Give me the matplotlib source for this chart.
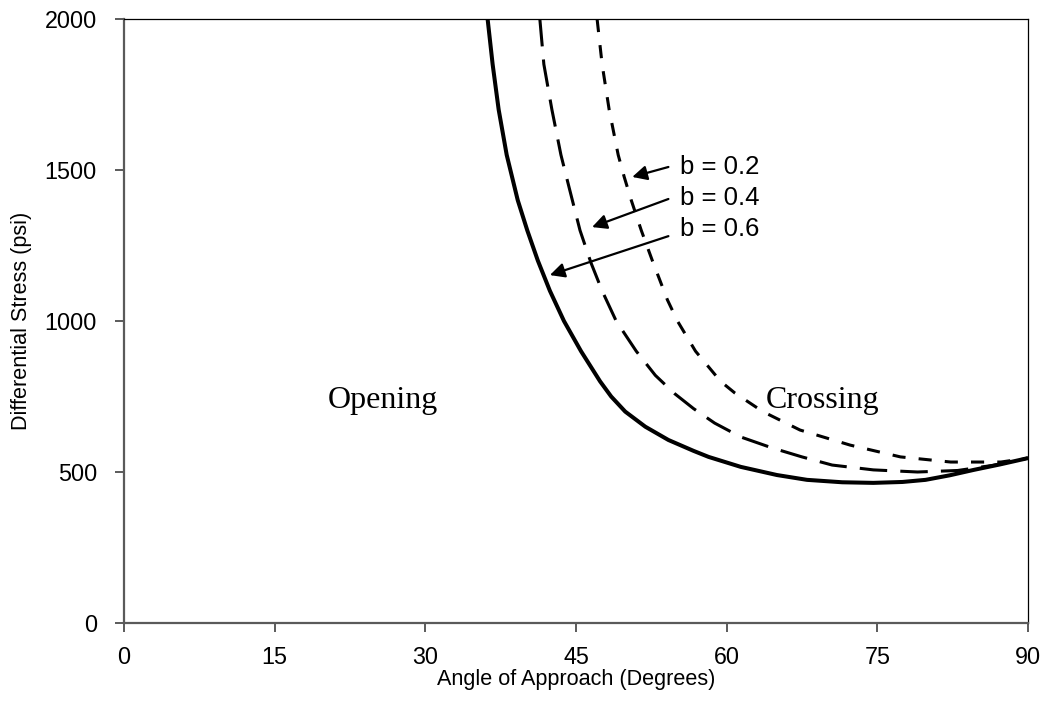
import numpy as np
import matplotlib
matplotlib.use('Agg')
import matplotlib.pyplot as plt

# curves: angle (deg) vs differential stress (psi)
ang_06 = [36.2, 36.7, 37.3, 38.1, 39.2, 40.15, 41.2, 42.4, 43.8, 45.5, 47.4, 48.5, 49.9, 51.9, 54.2,
          56.7, 58.2, 61.4, 65.0, 68.0, 71.5, 74.6, 77.5, 79.8, 82.2, 84.6, 87.2, 90.0]
psi_06 = [2000, 1850, 1700, 1550, 1400, 1300, 1200, 1100, 1000, 900, 800, 750, 700, 650, 606,
          570, 550, 517, 490, 474, 466, 464, 467, 474, 489, 507, 525, 546]

ang_04 = [41.4, 41.8, 42.6, 43.5, 44.3, 45.4, 46.5, 47.6, 49.0, 51.0, 52.9, 54.8, 56.7, 58.8,
          61.4, 64.5, 67.5, 70.5, 74.6, 79.0, 83.0, 86.5, 90.0]
psi_04 = [2000, 1850, 1700, 1550, 1444, 1300, 1192, 1100, 1000, 900, 820, 760, 710, 662,
          616, 580, 550, 523, 507, 500, 505, 522, 546]

ang_02 = [47.1, 47.6, 48.3, 49.2, 49.8, 50.5, 51.5, 52.6, 54.1, 55.1, 56.9, 59.4, 60.8, 63.6,
          67.3, 72.3, 77.3, 82.3, 87.3, 90.0]
psi_02 = [2000, 1850, 1700, 1550, 1477, 1400, 1300, 1200, 1070, 1000, 900, 800, 762, 700,
          639, 589, 550, 533, 533, 546]

x_ticks = [0, 15, 30, 45, 60, 75, 90]
y_ticks = [0, 500, 1000, 1500, 2000]

labels = ['b = 0.2', 'b = 0.4', 'b = 0.6']
label_xy = [(55.4, 1510), (55.4, 1407), (55.4, 1305)]
tail_xy = [(54.2, 1510), (54.2, 1404), (54.2, 1281)]
head_xy = [(50.6, 1477), (46.6, 1311), (42.4, 1152)]

plt.rcParams['font.family'] = ['Liberation Sans', 'DejaVu Sans']

fig = plt.figure(figsize=(10.45, 7.15), dpi=100)
ax = fig.add_axes([124 / 1045, 92 / 715, 904 / 1045, 604 / 715])

ax.plot(ang_06, psi_06, color='black', lw=2.9, solid_capstyle='butt', solid_joinstyle='round')
ax.plot(ang_04, psi_04, color='black', lw=2.2, dashes=(9, 4.3), dash_capstyle='butt')
ax.plot(ang_02, psi_02, color='black', lw=2.2, dashes=(4.3, 4.3), dash_capstyle='butt')

for lab, lxy, t, h in zip(labels, label_xy, tail_xy, head_xy):
    ax.annotate('', xy=h, xytext=t,
                arrowprops=dict(arrowstyle='-|>', color='black', lw=1.6,
                                mutation_scale=22, shrinkA=0, shrinkB=0))
    ax.text(lxy[0], lxy[1], lab, fontsize=18.5, va='center', ha='left')

ax.text(25.8, 738, 'Opening', family='Liberation Serif', fontsize=23, ha='center', va='center')
ax.text(69.5, 738, 'Crossing', family='Liberation Serif', fontsize=23, ha='center', va='center')

ax.set_xlim(0, 90)
ax.set_ylim(0, 2000)
ax.set_xticks(x_ticks)
ax.set_yticks(y_ticks)

for s in ['left', 'bottom']:
    ax.spines[s].set_color('#5a5a5a')
    ax.spines[s].set_linewidth(1.6)
for s in ['top', 'right']:
    ax.spines[s].set_color('black')
    ax.spines[s].set_linewidth(0.9)

ax.tick_params(direction='out', length=6.5, width=1.4, color='#5a5a5a', labelsize=16.8)
ax.tick_params(axis='y', pad=13)
ax.tick_params(axis='x', pad=10)

ax.set_xlabel('Angle of Approach (Degrees)', fontsize=15.6, labelpad=0)
ax.set_ylabel('Differential Stress (psi)', fontsize=15.6, labelpad=9)

fig.savefig('out.png', dpi=100)
